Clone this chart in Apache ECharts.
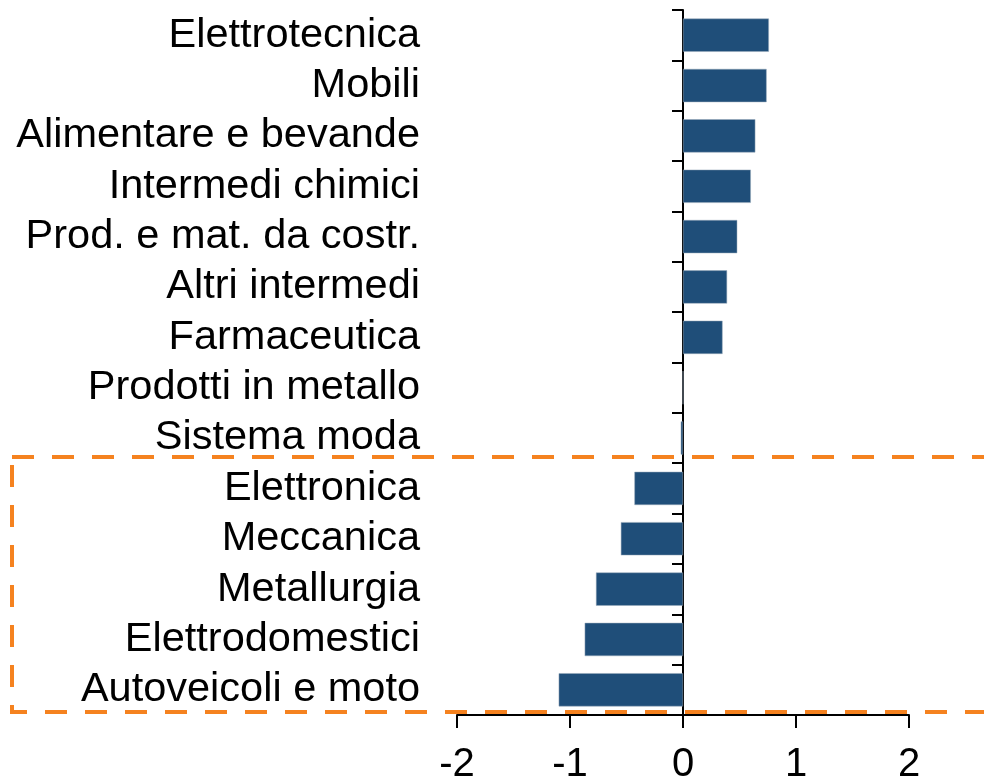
<!DOCTYPE html>
<html>
<head>
<meta charset="utf-8">
<script src="https://cdn.jsdelivr.net/npm/echarts@6/dist/echarts.min.js"></script>
<style>
  html, body { margin: 0; padding: 0; background: #fff; }
  #chart { width: 984px; height: 782px; }
</style>
</head>
<body>
<div id="chart"></div>
<script>
const categories = [
    'Elettrotecnica',
    'Mobili',
    'Alimentare e bevande',
    'Intermedi chimici',
    'Prod. e mat. da costr.',
    'Altri intermedi',
    'Farmaceutica',
    'Prodotti in metallo',
    'Sistema moda',
    'Elettronica',
    'Meccanica',
    'Metallurgia',
    'Elettrodomestici',
    'Autoveicoli e moto'
];
const values = [0.76, 0.74, 0.64, 0.60, 0.48, 0.39, 0.35, 0.0, -0.02, -0.43, -0.55, -0.77, -0.87, -1.10];
const xTicks = [-2, -1, 0, 1, 2];

const chart = echarts.init(document.getElementById('chart'));

const option = {
    animation: false,
    grid: {
        left: 457,
        right: 75,
        top: 10,
        bottom: 67,
        containLabel: false,
        outerBoundsMode: 'none'
    },
    xAxis: {
        type: 'value',
        min: xTicks[0],
        max: xTicks[xTicks.length - 1],
        interval: 1,
        axisLine: { show: true, lineStyle: { color: '#000', width: 2 } },
        axisTick: { show: true, length: 13, lineStyle: { color: '#000', width: 2 } },
        axisLabel: {
            fontFamily: 'Liberation Sans, Arial, sans-serif',
            fontSize: 40,
            color: '#000',
            margin: 30
        },
        splitLine: { show: false }
    },
    yAxis: {
        type: 'category',
        inverse: true,
        data: categories,
        axisLine: { show: true, onZero: true, lineStyle: { color: '#000', width: 2 } },
        axisTick: { show: true, length: 11, lineStyle: { color: '#000', width: 2 } },
        axisLabel: {
            interval: 0,
            hideOverlap: false,
            fontFamily: 'Liberation Sans, Arial, sans-serif',
            fontSize: 41.5,
            color: '#000',
            margin: 37,
            padding: [4, 0, 0, 0]
        },
        splitLine: { show: false }
    },
    series: [
        {
            type: 'bar',
            data: values,
            barCategoryGap: '34%',
            itemStyle: {
                color: '#1f4e79',
                borderColor: '#9aaabb',
                borderWidth: 0.5
            }
        }
    ],
    graphic: [
        {
            type: 'rect',
            silent: true,
            shape: { x: 12, y: 457, width: 1000, height: 255 },
            style: {
                fill: 'none',
                stroke: '#f5821f',
                lineWidth: 4,
                lineDash: [22, 18]
            },
            z: 100
        }
    ]
};

chart.setOption(option);
</script>
</body>
</html>
